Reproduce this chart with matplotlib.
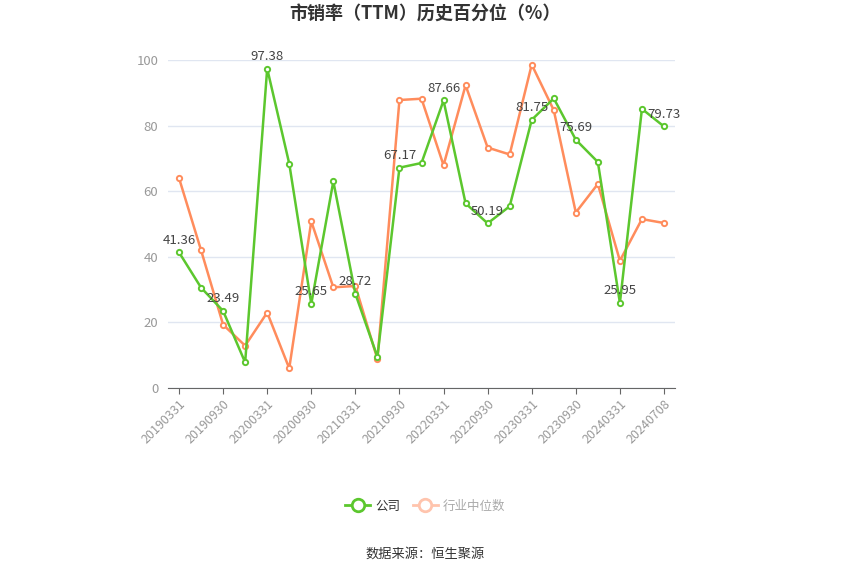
import matplotlib.pyplot as plt
from matplotlib.lines import Line2D

plt.rcParams['font.family'] = ['Noto Sans CJK SC', 'DejaVu Sans']

# 数据
dates = ["20190331", "20190630", "20190930", "20191231", "20200331", "20200630",
         "20200930", "20201231", "20210331", "20210630", "20210930", "20211231",
         "20220331", "20220630", "20220930", "20221231", "20230331", "20230630",
         "20230930", "20231231", "20240331", "20240630", "20240708"]
company = [41.36, 30.6, 23.49, 7.8, 97.38, 68.4, 25.65, 63.0, 28.72, 9.5, 67.17, 68.6,
           87.66, 56.3, 50.19, 55.4, 81.75, 88.3, 75.69, 68.9, 25.95, 85.1, 79.73]
industry = [64.0, 42.0, 19.3, 12.9, 23.0, 6.0, 50.8, 30.7, 31.1, 8.8, 87.8, 88.2,
            67.9, 92.3, 73.3, 71.2, 98.6, 84.7, 53.5, 62.2, 38.8, 51.5, 50.3]
tick_idx = [0, 2, 4, 6, 8, 10, 12, 14, 16, 18, 20, 22]

green = "#5cc72e"
orange = "#ff8c5c"

fig = plt.figure(figsize=(8.5, 5.75), dpi=100)
ax = fig.add_axes([168 / 850, 1 - 388 / 575, 507 / 850, 328 / 575])

x = list(range(len(dates)))
ax.plot(x, industry, color=orange, lw=1.8, marker='o', ms=3.8,
        markerfacecolor='white', markeredgewidth=1.4, zorder=3)
ax.plot(x, company, color=green, lw=1.8, marker='o', ms=3.8,
        markerfacecolor='white', markeredgewidth=1.4, zorder=4)

for i in tick_idx:
    ax.annotate(f"{company[i]:.2f}", (i, company[i]), xytext=(0, 4),
                textcoords='offset points', ha='center', va='bottom',
                fontsize=9.5, color='#444444', zorder=5)

ax.set_xlim(-0.5, len(dates) - 0.5)
ax.set_ylim(0, 100)
ax.set_yticks([0, 20, 40, 60, 80, 100])
ax.set_xticks(tick_idx)
ax.set_xticklabels([dates[i] for i in tick_idx], rotation=45, ha='right',
                   rotation_mode='anchor', fontsize=9, color='#999999')
ax.tick_params(axis='y', length=0, labelsize=9.5, labelcolor='#999999', pad=7)
ax.tick_params(axis='x', length=4, color='#666666', pad=3)
ax.grid(axis='y', color='#e0e6f1', lw=1)
ax.set_axisbelow(True)
for s in ['top', 'right', 'left']:
    ax.spines[s].set_visible(False)
ax.spines['bottom'].set_color('#666666')

fig.text(0.5, 1 - 14 / 575, "市销率（TTM）历史百分位（%）", ha='center', va='center',
         fontsize=13, fontweight='bold', color='#333333')

handles = [
    Line2D([0], [0], color=green, lw=2, marker='o', ms=9,
           markerfacecolor='white', markeredgewidth=2),
    Line2D([0], [0], color='#ffc4ad', lw=2, marker='o', ms=9,
           markerfacecolor='white', markeredgewidth=2),
]
leg = fig.legend(handles, ["公司", "行业中位数"], loc='center',
                 bbox_to_anchor=(0.5, 1 - 506 / 575), ncol=2, frameon=False,
                 fontsize=9, handlelength=2.0, columnspacing=1.0, handletextpad=0.4)
leg.get_texts()[0].set_color('#333333')
leg.get_texts()[1].set_color('#aaaaaa')

fig.text(0.5, 1 - 554 / 575, "数据来源：恒生聚源", ha='center', va='center',
         fontsize=9.5, color='#333333')

fig.savefig("out.png", dpi=100)
